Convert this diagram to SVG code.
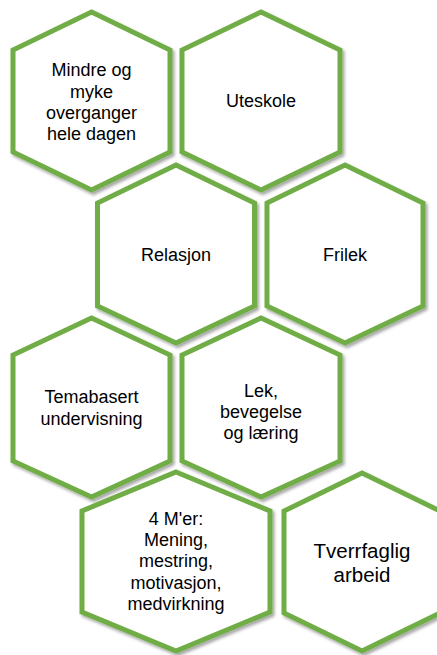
<svg xmlns="http://www.w3.org/2000/svg" width="437" height="655" viewBox="0 0 437 655">
<defs>
<filter id="sh" x="-10%" y="-10%" width="130%" height="130%">
<feDropShadow dx="2" dy="2.5" stdDeviation="1.5" flood-color="#000" flood-opacity="0.35"/>
</filter>
</defs>
<style>
.hex{fill:#fff;stroke:#70AD47;stroke-width:5;stroke-linejoin:miter;filter:url(#sh)}
text{font-family:"Liberation Sans",Arial,sans-serif;font-size:18px;fill:#000;text-anchor:middle}
.big{font-size:20.5px}
</style>
<rect width="437" height="655" fill="#fff"/>
<g id="connectors"></g>
<g id="n1">
<polygon class="hex" points="91.5,12 170,50 170,152 91.5,190 13,152 13,50"/>
<text x="91.5" y="76">Mindre og</text>
<text x="91.5" y="97.5">myke</text>
<text x="91.5" y="118.5">overganger</text>
<text x="91.5" y="140">hele dagen</text>
</g>
<g id="n2">
<polygon class="hex" points="261,12 340,50 340,152 261,190 182,152 182,50"/>
<text x="261" y="107">Uteskole</text>
</g>
<g id="n3">
<polygon class="hex" points="176,165 254.5,203 254.5,306 176,343 97.5,306 97.5,203"/>
<text x="176" y="261">Relasjon</text>
</g>
<g id="n4">
<polygon class="hex" points="345,165 423,203 423,306 345,343 267,306 267,203"/>
<text x="345" y="261">Frilek</text>
</g>
<g id="n5">
<polygon class="hex" points="91.5,318 170,355 170,461 91.5,497 13,461 13,355"/>
<text x="91.5" y="403">Temabasert</text>
<text x="91.5" y="424.5">undervisning</text>
</g>
<g id="n6">
<polygon class="hex" points="261,318 340,355 340,461 261,497 182,461 182,355"/>
<text x="261" y="397">Lek,</text>
<text x="261" y="418">bevegelse</text>
<text x="261" y="439">og læring</text>
</g>
<g id="n7">
<polygon class="hex" points="176,472 270,511 270,612 176,651 82,612 82,511"/>
<text x="176" y="525">4 M'er:</text>
<text x="176" y="546">Mening,</text>
<text x="176" y="567">mestring,</text>
<text x="176" y="588.5">motivasjon,</text>
<text x="176" y="610">medvirkning</text>
</g>
<g id="n8">
<polygon class="hex" points="362,473 440,511 440,613 362,651 284,613 284,511"/>
<text class="big" x="362" y="558">Tverrfaglig</text>
<text class="big" x="362" y="582">arbeid</text>
</g>
</svg>
